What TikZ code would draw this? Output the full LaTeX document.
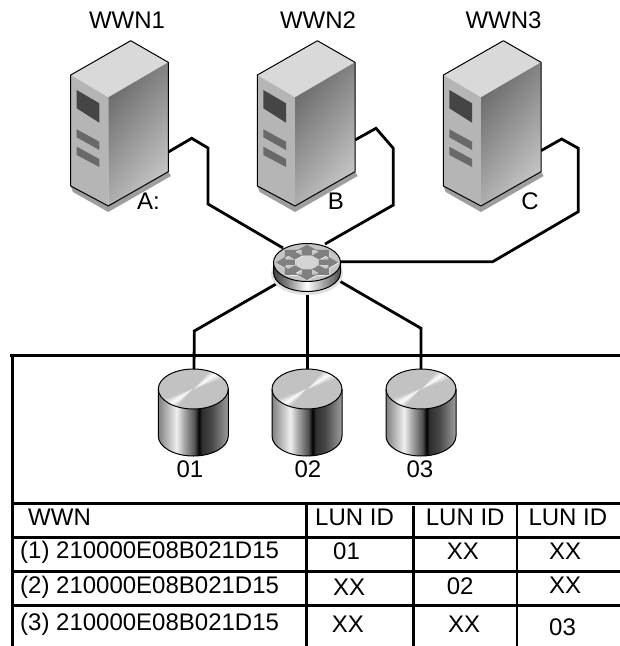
\documentclass[tikz,border=0pt]{standalone}
\usepackage{fontspec}
\setmainfont{Liberation Sans}
\pgfdeclarehorizontalshading{cylside}{100bp}{
 color(0bp)=(black!50);color(25bp)=(black!50);color(34.5bp)=(black!18);color(38bp)=(black!6);
 color(43bp)=(black!32);color(51bp)=(black!68);color(54bp)=(black!100);color(56bp)=(black!82);
 color(63bp)=(black!72);color(75bp)=(black!38);color(100bp)=(black!38)}
\pgfdeclarehorizontalshading{routerside}{100bp}{
 color(0bp)=(black!75);color(25bp)=(black!75);color(35bp)=(black!50);color(50bp)=(black!0);
 color(62bp)=(black!35);color(75bp)=(black!70);color(100bp)=(black!70)}
\tikzset{
 x=1pt,y=-1pt,
 cable/.style={line width=2.8pt,line join=miter,black},
 rule/.style={line width=3pt,black},
 thinrule/.style={line width=2.4pt,black},
 txt/.style={inner sep=0pt,anchor=base,font=\fontsize{24}{28}\selectfont},
 txtw/.style={inner sep=0pt,anchor=base west,font=\fontsize{24}{28}\selectfont},
 outline/.style={draw=black,line width=1pt,line join=round},
}
\definecolor{srvtop}{gray}{.85}
\definecolor{srvfront}{gray}{.71}
\definecolor{srvwin}{gray}{.27}
\definecolor{srvslot}{gray}{.41}
\definecolor{srvshadow}{gray}{.62}
\definecolor{cyltop}{gray}{.76}
\definecolor{rtop}{gray}{.77}
\definecolor{rarrow}{gray}{.5}
\newcommand{\serverbox}[1]{%
 \begin{scope}[xshift=#1pt]
  \fill[srvshadow] (70.7,186) -- (108.3,206) -- (168.3,171.7) -- (171,176) -- (108.3,212) -- (73,192) -- cycle;
  \fill[srvtop] (130.7,40.7) -- (168.3,62.3) -- (108.3,97.3) -- (70.7,75) -- cycle;
  \fill[srvfront] (70.7,75) -- (108.3,97.3) -- (108.3,206) -- (70.7,186) -- cycle;
  \shade[top color=black!58,bottom color=black!22,shading angle=50]
     (108.3,97.3) -- (168.3,62.3) -- (168.3,171.7) -- (108.3,206) -- cycle;
  \draw[outline] (130.7,40.7) -- (168.3,62.3) -- (168.3,171.7) -- (108.3,206) -- (70.7,186) -- (70.7,75) -- cycle;
  \fill[srvwin] (76.7,90) -- (99.3,103.3) -- (99.3,122.7) -- (76.7,108.3) -- cycle;
  \fill[srvslot] (76.7,129.3) -- (99.3,141.7) -- (99.3,150) -- (76.7,137.3) -- cycle;
  \fill[srvslot] (76.7,146.7) -- (99.3,159) -- (99.3,167) -- (76.7,155) -- cycle;
 \end{scope}}
\newcommand{\disk}[1]{%
 \begin{scope}[shift={(#1,389)}]
  \shade[shading=cylside] (-35,0) -- (-35,47) arc[start angle=180,end angle=360,x radius=35pt,y radius=20pt] -- (35,0) arc[start angle=0,end angle=180,x radius=35pt,y radius=20pt] -- cycle;
  \begin{scope}
   \clip (0,0) ellipse[x radius=35pt,y radius=20pt];
   \fill[cyltop] (-36,-21) rectangle (36,21);
   \foreach \a in {-16,-14,...,16}{
     \pgfmathsetmacro{\g}{24*abs(\a)/16}
     \fill[black!\g,draw=black!\g,line width=.2pt] (0,0) -- ({60*cos(\a+33)},{-60*sin(\a+33)}) -- ({60*cos(\a+35)},{-60*sin(\a+35)}) -- cycle;
     \fill[black!\g,draw=black!\g,line width=.2pt] (0,0) -- ({-60*cos(\a+33)},{60*sin(\a+33)}) -- ({-60*cos(\a+35)},{60*sin(\a+35)}) -- cycle;
   }
  \end{scope}
  \draw[outline] (0,0) ellipse[x radius=35pt,y radius=20pt];
  \draw[outline] (-35,0) -- (-35,47) arc[start angle=180,end angle=360,x radius=35pt,y radius=20pt] -- (35,0);
 \end{scope}}
\newcommand{\rarr}[2]{%
 \begin{scope}[shift={(307,262.5)},xscale=33.5,yscale=19,rotate=#1]
  \fill[#2] (.36,-.15) -- (.64,-.15) -- (.64,-.3) -- (.93,0) -- (.64,.3) -- (.64,.15) -- (.36,.15) -- cycle;
 \end{scope}}
\begin{document}
\begin{tikzpicture}
\useasboundingbox (0,0) rectangle (620,646);
\fill[white] (0,0) rectangle (620,646);

% anchors for connectors
\coordinate (portA) at (168.3,152);
\coordinate (portB) at (355,140);
\coordinate (portC) at (541,150.7);
\coordinate (rNW) at (283,248);
\coordinate (rNE) at (325,244);
\coordinate (rE) at (338,261.7);
\coordinate (rSW) at (283,280);
\coordinate (rS) at (307.3,285);
\coordinate (rSE) at (336,279);
\coordinate (d1) at (194,372);
\coordinate (d2) at (307.3,372);
\coordinate (d3) at (421,372);

% storage frame
\draw[rule] (10,355) -- (620,355);
\draw[rule] (12,353.5) -- (12,646);

% connectors
\draw[cable] (portA) -- (191.7,138.3) -- (208,148) -- (208,204) -- (rNW);
\draw[cable] (portB) -- (376,128.3) -- (393.3,148.3) -- (393.3,205) -- (rNE);
\draw[cable] (portC) -- (561.7,139) -- (578.3,148.3) -- (578.3,211.7) -- (492.7,261.7) -- (rE);
\draw[cable] (rSW) -- (194.3,331) -- (d1);
\draw[cable] (rS) -- (d2);
\draw[cable] (rSE) -- (421,328.3) -- (d3);

% servers
\serverbox{0}
\serverbox{186.7}
\serverbox{372.7}

% router
\fill[black!12] (307,274) ellipse[x radius=36pt,y radius=21pt];
\shade[shading=routerside] (273.5,262.5) -- (273.5,272.5) arc[start angle=180,end angle=360,x radius=33.5pt,y radius=19pt] -- (340.5,262.5) -- cycle;
\draw[outline] (273.5,262.5) -- (273.5,272.5) arc[start angle=180,end angle=360,x radius=33.5pt,y radius=19pt] -- (340.5,262.5);
\fill[rtop] (307,262.5) ellipse[x radius=33.5pt,y radius=19pt];
\begin{scope}[xshift=.4pt,yshift=-.7pt]
\foreach \a in {0,45,...,315}{\rarr{\a}{white}}
\end{scope}
\foreach \a in {0,45,...,315}{\rarr{\a}{rarrow}}
\fill[black!17] (307,262.5) ellipse[x radius=11pt,y radius=6.5pt];
\draw[outline] (307,262.5) ellipse[x radius=33.5pt,y radius=19pt];

% disks
\disk{193.3}
\disk{307}
\disk{421}

% table rules
\draw[rule] (12,503) -- (620,503);
\draw[rule] (12,537.7) -- (620,537.7);
\draw[rule] (12,571) -- (620,571);
\draw[rule] (12,605.7) -- (620,605.7);
\draw[thinrule] (306.5,503) -- (306.5,646);
\draw[thinrule] (413.5,506) -- (413.5,646);
\draw[thinrule] (517,503) -- (517,646);

% labels
\node[txt] (wwn1) at (127,28) {WWN1};
\node[txt] (wwn2) at (318,28) {WWN2};
\node[txt] (wwn3) at (503.5,28) {WWN3};
\node[txtw] (la) at (137,209) {A:};
\node[txt] (lb) at (336,209) {B};
\node[txt] (lc) at (530,209) {C};
\node[txt] (n1) at (190,477) {01};
\node[txt] (n2) at (308,477) {02};
\node[txt] (n3) at (420,477) {03};

\node[txtw] (h0) at (28,525) {WWN};
\node[txtw] (h1) at (315,525) {LUN ID};
\node[txtw] (h2) at (425.7,525) {LUN ID};
\node[txtw] (h3) at (528.3,525) {LUN ID};
\node[txtw] (w1) at (20,558) {(1) 210000E08B021D15};
\node[txtw] (w2) at (20,593) {(2) 210000E08B021D15};
\node[txtw] (w3) at (20,630) {(3) 210000E08B021D15};
\node[txtw] (c11) at (333,559) {01};
\node[txtw] (c12) at (446.7,559) {XX};
\node[txtw] (c13) at (549,559) {XX};
\node[txtw] (c21) at (333,595) {XX};
\node[txtw] (c22) at (446.7,594) {02};
\node[txtw] (c23) at (549,593) {XX};
\node[txtw] (c31) at (331.7,632) {XX};
\node[txtw] (c32) at (448,632) {XX};
\node[txtw] (c33) at (549,635) {03};
\end{tikzpicture}
\end{document}
